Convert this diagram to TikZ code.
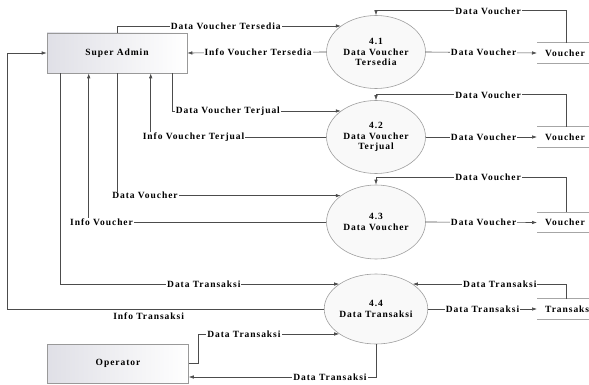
\documentclass[tikz,border=0pt]{standalone}
\usepackage{fontspec}
\setmainfont{Liberation Serif}[LetterSpace=10]
\usetikzlibrary{shapes.geometric,arrows.meta,calc}
\tikzset{
  txt/.style={font=\fontsize{9.5}{10.5}\selectfont\bfseries, text=black},
  proc/.style={ellipse, draw=gray!75, line width=0.6pt, fill=gray!5, minimum width=99, minimum height=73, inner sep=0pt, align=center, txt},
  ent/.style={rectangle, draw=gray!80, line width=0.6pt, left color=blue!12!gray!22, right color=white, minimum width=140, minimum height=40, txt},
  store/.style={rectangle, anchor=west, minimum height=20, inner xsep=8, txt},
  sline/.style={draw=gray!70, line width=1pt},
  flow/.style={draw=black!70, line width=0.6pt},
  arr/.style={flow, -{Latex[length=5pt,width=3.5pt]}},
  lbl/.style={fill=white, inner xsep=1pt, inner ysep=0.5pt, txt}
}
\begin{document}
\begin{tikzpicture}[x=1pt,y=-1pt]
\useasboundingbox (0,0) rectangle (589,385);
% entities
\node[ent] (sa) at (117,53) {Super Admin};
\node[ent, minimum width=141, minimum height=39] (op) at (118,363.5) {Operator};
% processes
\node[proc] (p1) at (376,52) {4.1\\Data Voucher\\Tersedia};
\node[proc] (p2) at (376,137) {4.2\\Data Voucher\\Terjual};
\node[proc, minimum height=74] (p3) at (376,222) {4.3\\Data Voucher};
\node[proc, minimum height=70] (p4) at (376,309) {4.4\\Data Transaksi};
% stores
\node[store] (s1) at (537,53) {Voucher};
\node[store] (s2) at (537,137) {Voucher};
\node[store] (s3) at (537,222.5) {Voucher};
\node[store] (s4) at (537,309) {Transaksi};
\foreach \s in {s1,s2,s3,s4}{
  \draw[sline] (\s.north west) -- (\s.north east);
  \draw[sline] (\s.south west) -- (\s.south east);
}
% super admin <-> processes
\draw[arr] (sa.north) |- node[lbl, pos=0.743] {Data Voucher Tersedia} (p1.north west);
\draw[arr] (p1.west) -- node[lbl, pos=0.49] {Info Voucher Tersedia} (sa.east);
\draw[arr] ($(sa.south west)+(126,0)$) |- node[lbl, pos=0.664] {Data Voucher Terjual} (p2.north west);
\draw[arr] (p2.west) -| node[lbl, pos=0.378] {Info Voucher Terjual} ($(sa.south west)+(104,0)$);
\draw[arr] (sa.south) |- node[lbl, pos=0.5625] {Data Voucher} (p3.north west);
\draw[arr] (p3.west) -| node[lbl, pos=0.473] {Info Voucher} ($(sa.south west)+(42,0)$);
\draw[arr] ($(sa.south west)+(14,0)$) |- node[lbl, pos=0.757] {Data Transaksi} (p4.north west);
\coordinate (lft) at (7,200);
\draw[arr] (p4.west) -- node[txt, pos=0.553, below=0pt] {Info Transaksi} (p4.west -| lft) |- (sa.west);
% operator <-> process 4.4
\draw[arr] (op.east) -- ++(9,0) |- node[lbl, pos=0.663] {Data Transaksi} (p4.south west);
\draw[arr] (p4.south) |- node[lbl, pos=0.623] {Data Transaksi} ($(op.east)+(0,13.5)$);
% processes -> stores
\draw[arr] (p1.east) -- node[lbl, pos=0.52] {Data Voucher} (s1.west);
\draw[arr] (p2.east) -- node[lbl, pos=0.52] {Data Voucher} (s2.west);
\draw[arr] (p3.east) -- node[lbl, pos=0.52] {Data Voucher} (s3.west);
\draw[arr] (p4.east) -- node[lbl, pos=0.5] {Data Transaksi} (s4.west);
% stores -> processes
\draw[arr] ($(s1.north west)+(29,0)$) -- ++(0,-32) -| node[lbl, pos=0.205] {Data Voucher} (p1.north);
\draw[arr] ($(s2.north west)+(29,0)$) -- ++(0,-32) -| node[lbl, pos=0.205] {Data Voucher} (p2.north);
\draw[arr] ($(s3.north west)+(29,0)$) -- ++(0,-35) -| node[lbl, pos=0.205] {Data Voucher} (p3.north);
\draw[arr] ($(s4.north west)+(29,0)$) |- node[lbl, pos=0.716] {Data Transaksi} (p4.north east);
\end{tikzpicture}
\end{document}
